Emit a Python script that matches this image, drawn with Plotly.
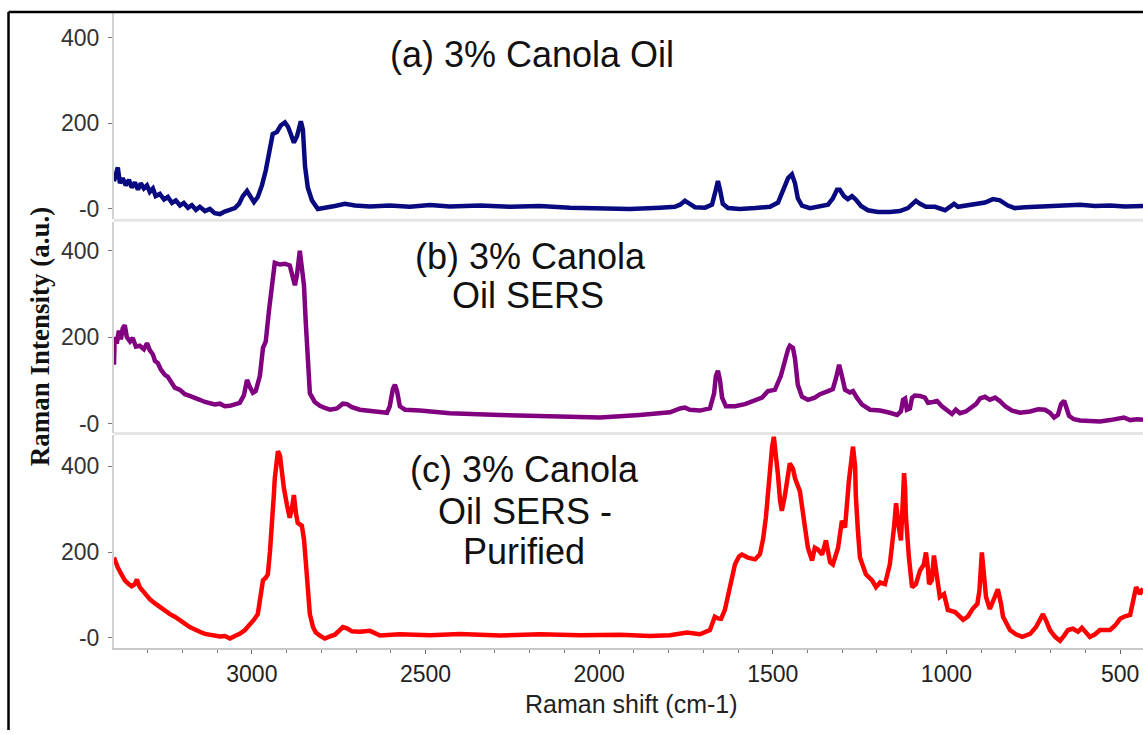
import plotly.graph_objects as go

# Raman spectra of canola oil, intensity (a.u.) against Raman shift (cm-1)

# (a) 3% canola oil
a_shift = [3397, 3392, 3386, 3380, 3372, 3363, 3354, 3346, 3337, 3328, 3320, 3311, 3302, 3294,
           3285, 3277, 3265, 3253, 3242, 3230, 3219, 3207, 3196, 3184, 3173, 3161, 3150, 3135,
           3121, 3107, 3092, 3078, 3063, 3049, 3037, 3026, 3014, 3006, 2994, 2983, 2971, 2960,
           2948, 2940, 2928, 2917, 2905, 2896, 2888, 2879, 2870, 2865, 2859, 2853, 2847, 2839,
           2827, 2810, 2790, 2761, 2732, 2703, 2660, 2603, 2545, 2487, 2430, 2343, 2257, 2171,
           2084, 1998, 1911, 1825, 1782, 1767, 1753, 1739, 1724, 1695, 1675, 1664, 1658, 1652,
           1644, 1629, 1595, 1551, 1508, 1485, 1468, 1456, 1445, 1436, 1428, 1416, 1393, 1364,
           1341, 1327, 1315, 1307, 1295, 1284, 1272, 1261, 1246, 1226, 1197, 1163, 1134, 1111,
           1096, 1088, 1076, 1059, 1033, 1004, 990, 978, 967, 947, 918, 889, 866, 846, 823, 803,
           774, 731, 687, 659, 615, 572, 529, 486, 434]
a_int = [65, 80, 97, 60, 72, 55, 68, 50, 62, 45, 60, 48, 55, 40,
         48, 30, 35, 22, 28, 14, 20, 8, 14, 3, 9, -2, 5, -5,
         0, -10, -12, -6, -3, 2, 12, 30, 42, 30, 16, 28, 55, 90,
         150, 175, 180, 195, 202, 192, 175, 155, 170, 190, 205, 185, 100, 50,
         20, 0, 2, 7, 12, 8, 6, 8, 5, 9, 6, 8, 5, 7,
         3, 2, 0, 3, 5, 10, 19, 12, 4, 3, 10, 45, 65, 45,
         12, 2, 0, 2, 5, 15, 45, 72, 81, 60, 25, 8, 2, 7,
         10, 25, 45, 45, 30, 23, 30, 22, 7, -3, -7, -7, -5, 2,
         12, 19, 12, 5, 5, -3, 5, 12, 5, 7, 10, 15, 23, 20, 8, 2,
         4, 5, 7, 9, 10, 7, 8, 6, 7]

# (b) 3% canola oil, SERS
b_shift = [3397, 3395, 3389, 3383, 3377, 3372, 3366, 3360, 3351, 3343, 3334, 3323, 3311, 3302,
           3294, 3285, 3279, 3271, 3262, 3251, 3242, 3233, 3222, 3207, 3193, 3179, 3164, 3150,
           3135, 3121, 3107, 3092, 3078, 3063, 3049, 3035, 3023, 3014, 3006, 2997, 2989, 2977,
           2968, 2960, 2951, 2942, 2934, 2919, 2905, 2891, 2882, 2876, 2870, 2865, 2862, 2856,
           2850, 2845, 2839, 2833, 2819, 2804, 2790, 2775, 2755, 2738, 2726, 2712, 2689, 2660,
           2631, 2611, 2603, 2594, 2588, 2582, 2574, 2559, 2516, 2430, 2286, 2142, 1998, 1883,
           1796, 1767, 1753, 1739, 1710, 1681, 1669, 1664, 1658, 1652, 1646, 1635, 1609, 1580,
           1551, 1531, 1514, 1494, 1477, 1465, 1456, 1451, 1442, 1436, 1428, 1416, 1399, 1379,
           1364, 1341, 1327, 1318, 1309, 1301, 1292, 1278, 1269, 1258, 1243, 1220, 1191, 1163,
           1142, 1131, 1125, 1119, 1114, 1105, 1099, 1091, 1076, 1062, 1053, 1039, 1027, 1013,
           996, 984, 973, 961, 944, 926, 915, 903, 889, 875, 860, 846, 831, 811, 788, 759, 736,
           716, 702, 690, 679, 670, 661, 656, 647, 633, 615, 587, 558, 529, 506, 489, 471, 451,
           434]
b_int = [136, 200, 185, 215, 195, 220, 228, 200, 190, 198, 178, 180, 172, 186,
         170, 160, 145, 140, 125, 113, 108, 95, 83, 78, 68, 64, 58, 55,
         50, 48, 44, 46, 40, 41, 44, 48, 65, 101, 85, 71, 75, 110,
         175, 190, 260, 330, 372, 368, 370, 366, 335, 320, 345, 375, 400, 360,
         320, 237, 140, 70, 50, 41, 36, 32, 35, 46, 45, 38, 32, 30,
         26, 25, 40, 80, 90, 75, 40, 32, 30, 24, 20, 16, 14, 20,
         26, 35, 37, 32, 30, 35, 70, 110, 122, 100, 60, 40, 40, 45,
         55, 60, 75, 78, 110, 150, 172, 180, 175, 150, 90, 62, 55, 60,
         68, 75, 80, 105, 136, 110, 78, 72, 75, 60, 44, 32, 30, 25,
         20, 28, 55, 58, 32, 35, 60, 65, 64, 60, 48, 50, 52, 40,
         28, 22, 32, 24, 28, 38, 45, 58, 62, 55, 60, 52, 40, 30, 25, 28, 33,
         32, 25, 14, 20, 45, 53, 40, 18, 10, 7, 6, 5, 8, 12, 14, 8, 10,
         9]

# (c) 3% canola oil, SERS, purified
c_shift = [3397, 3392, 3386, 3377, 3366, 3354, 3346, 3337, 3331, 3323, 3308, 3294, 3279, 3265,
           3251, 3236, 3222, 3207, 3193, 3179, 3164, 3150, 3135, 3121, 3107, 3092, 3078, 3063,
           3049, 3035, 3020, 3006, 2994, 2983, 2974, 2968, 2960, 2954, 2948, 2942, 2937, 2934,
           2928, 2925, 2919, 2914, 2908, 2899, 2891, 2885, 2879, 2873, 2868, 2856, 2850, 2845,
           2839, 2833, 2824, 2816, 2804, 2790, 2775, 2761, 2747, 2738, 2726, 2712, 2689, 2660,
           2631, 2574, 2487, 2401, 2286, 2171, 2055, 1940, 1854, 1796, 1747, 1710, 1681, 1667,
           1658, 1649, 1638, 1623, 1609, 1597, 1589, 1572, 1551, 1537, 1528, 1520, 1514, 1508,
           1502, 1497, 1491, 1485, 1479, 1474, 1465, 1456, 1451, 1442, 1436, 1422, 1410, 1399,
           1387, 1379, 1370, 1358, 1347, 1335, 1327, 1312, 1301, 1292, 1281, 1275, 1269, 1263,
           1261, 1255, 1249, 1232, 1214, 1203, 1191, 1177, 1163, 1151, 1145, 1137, 1131, 1125,
           1122, 1119, 1117, 1108, 1099, 1088, 1076, 1065, 1059, 1053, 1050, 1042, 1036, 1027,
           1019, 1007, 996, 975, 952, 938, 925, 911, 905, 898, 892, 886, 875, 863, 852, 843,
           837, 817, 800, 782, 759, 742, 731, 722, 713, 702, 687, 673, 661, 650, 636, 621, 610,
           598, 587, 572, 558, 529, 515, 500, 486, 471, 463, 454, 443, 434]
c_int = [187, 175, 164, 150, 134, 125, 120, 125, 136, 118, 102, 90, 80, 72,
         62, 55, 49, 42, 33, 25, 18, 14, 9, 7, 5, 3, 4, -2,
         4, 9, 18, 30, 42, 55, 100, 134, 140, 148, 200, 257, 330, 372,
         420, 435, 425, 379, 350, 310, 280, 300, 333, 290, 268, 261, 230, 180,
         110, 55, 25, 12, 5, -2, 3, 7, 18, 25, 22, 15, 14, 16,
         5, 8, 6, 9, 5, 8, 6, 7, 4, 6, 12, 8, 18, 49,
         45, 44, 65, 118, 171, 190, 194, 187, 183, 195, 230, 280, 340, 395,
         445, 469, 430, 379, 320, 296, 333, 385, 407, 395, 372, 342, 264, 210,
         180, 210, 206, 194, 227, 176, 171, 210, 273, 257, 365, 420, 446, 400,
         333, 250, 187, 148, 134, 118, 129, 125, 171, 257, 314, 257, 227, 330,
         384, 350, 287, 187, 118, 125, 157, 171, 199, 160, 125, 134, 192, 141,
         95, 102, 65, 60, 42, 50, 67, 79, 110, 199, 130, 95, 67, 95, 113, 80,
         49, 18, 8, 2, 9, 25, 45, 55, 40, 18, 2, -7, 5, 18, 21, 14, 23,
         10, 2, 8, 18, 18, 28, 44, 50, 53, 80, 118, 102, 115]

x_ticks = [3000, 2500, 2000, 1500, 1000, 500]
y_ticks = [0, 200, 400]
y_tick_text = ["-0", "200", "400"]

W, H = 1143, 734
LEFT = 114  # plot area left edge (px)


def ydom(top_px, bottom_px):
    return [1 - bottom_px / H, 1 - top_px / H]


sans = "Liberation Sans, Arial, sans-serif"

fig = go.Figure()
fig.add_trace(go.Scatter(x=a_shift, y=a_int, mode="lines", xaxis="x", yaxis="y",
                         line=dict(color="#0a0a80", width=4.5)))
fig.add_trace(go.Scatter(x=b_shift, y=b_int, mode="lines", xaxis="x", yaxis="y2",
                         line=dict(color="#800080", width=4.5)))
fig.add_trace(go.Scatter(x=c_shift, y=c_int, mode="lines", xaxis="x", yaxis="y3",
                         line=dict(color="#ff0000", width=4.5)))

yaxis_common = dict(
    tickvals=y_ticks, ticktext=y_tick_text, showgrid=False, zeroline=False,
    showline=True, linecolor="#d2d2d2", linewidth=2,
    ticks="outside", ticklen=4, tickcolor="#777", tickwidth=1,
    tickfont=dict(family=sans, size=23, color="#333"),
    ticklabelstandoff=4, anchor="x",
)

fig.update_layout(
    width=W, height=H,
    margin=dict(l=0, r=0, t=0, b=0),
    paper_bgcolor="white", plot_bgcolor="white",
    showlegend=False,
    xaxis=dict(
        domain=[LEFT / W, 1], range=[3397, 434], anchor="y3",
        tickvals=x_ticks, showgrid=False, zeroline=False,
        showline=True, linecolor="#c8c8c8", linewidth=2,
        ticks="outside", ticklen=4, tickcolor="#666", tickwidth=1,
        minor=dict(dtick=100, ticks="outside", ticklen=3, tickcolor="#777"),
        tickfont=dict(family=sans, size=23, color="#222"),
        ticklabelstandoff=0,
    ),
    yaxis=dict(domain=ydom(13, 220), range=[-23, 458], **yaxis_common),
    yaxis2=dict(domain=ydom(223, 435), range=[-21, 467], **yaxis_common),
    yaxis3=dict(domain=ydom(437, 652), range=[-25, 474], **yaxis_common),
)

# light separators between the stacked panels, and the outer frame
for ypx in (221.5, 436):
    fig.add_shape(type="line", xref="paper", yref="paper",
                  x0=LEFT / W, x1=1, y0=1 - ypx / H, y1=1 - ypx / H,
                  line=dict(color="#e4e4e4", width=3))
fig.add_shape(type="line", xref="paper", yref="paper", x0=8.5 / W, x1=1,
              y0=1 - 12 / H, y1=1 - 12 / H, line=dict(color="black", width=2.5))
fig.add_shape(type="line", xref="paper", yref="paper", x0=8.5 / W, x1=8.5 / W,
              y0=0, y1=1 - 12 / H, line=dict(color="black", width=2.5))

labels = [
    ("(a) 3% Canola Oil", 532, 55),
    ("(b) 3% Canola", 530, 258),
    ("Oil SERS", 528, 297),
    ("(c) 3% Canola", 524, 472),
    ("Oil SERS -", 525, 514),
    ("Purified", 524, 555),
]
for text, xpx, ypx in labels:
    fig.add_annotation(text=text, xref="paper", yref="paper", x=xpx / W, y=1 - ypx / H,
                       xanchor="center", yanchor="middle", showarrow=False,
                       font=dict(family=sans, size=36, color="#111"))

fig.add_annotation(text="<b>Raman Intensity (a.u.)</b>", xref="paper", yref="paper",
                   x=40 / W, y=1 - 338 / H, textangle=-90, showarrow=False,
                   xanchor="center", yanchor="middle",
                   font=dict(family="Times New Roman, Liberation Serif, serif", size=27,
                             color="#111"))
fig.add_annotation(text="Raman shift (cm-1)", xref="paper", yref="paper",
                   x=631 / W, y=1 - 708 / H, showarrow=False,
                   xanchor="center", yanchor="middle",
                   font=dict(family=sans, size=25, color="#222"))

fig.write_html("out.html")
